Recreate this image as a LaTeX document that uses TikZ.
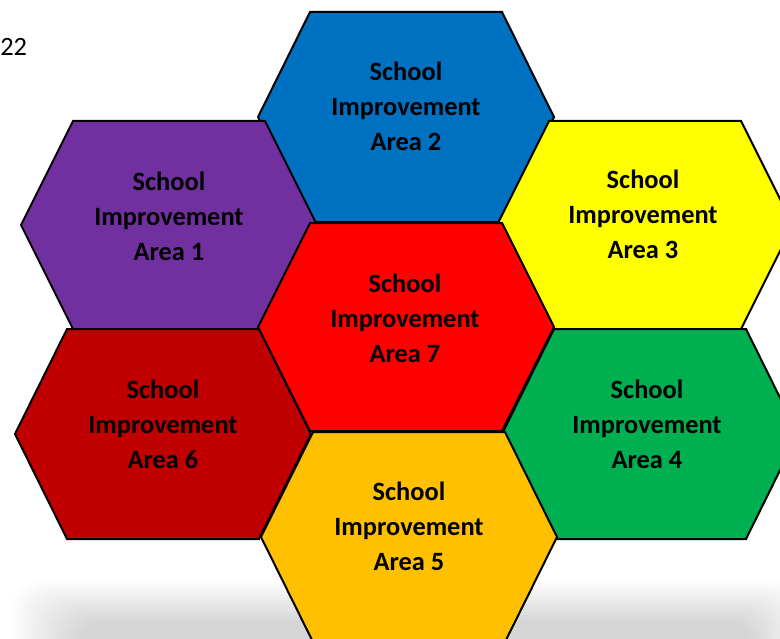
\documentclass[tikz,border=0pt]{standalone}
\usepackage{fontspec}
\setmainfont{Carlito}
\definecolor{areablue}{HTML}{0070C0}
\definecolor{areapurple}{HTML}{7030A0}
\definecolor{areayellow}{HTML}{FFFF00}
\definecolor{areared}{HTML}{FF0000}
\definecolor{areadarkred}{HTML}{C00000}
\definecolor{areagreen}{HTML}{00B050}
\definecolor{areaorange}{HTML}{FFC000}
\begin{document}
\begin{tikzpicture}[x=0.75pt, y=-0.75pt,
  cell/.style={draw=black, line width=1.5pt, line join=miter},
  celltext/.style={align=center, font=\fontsize{19.8}{26.25}\selectfont\bfseries, inner sep=0pt}]
  \clip (0,0) rectangle (780,638);
  % soft shadow under the cells
  \foreach \i in {0,...,13}
    \fill[black, opacity=0.012, rounded corners=20] (12+5*\i,582+3*\i) rectangle (805-4*\i,670);
  \node[anchor=base west, inner sep=0pt, font=\fontsize{19.8}{24}\selectfont] (pagenum) at (0,56) {22};
  % the seven cells
  \draw[cell, fill=areablue, shift={(406,117)}] (-96,-105) -- (96,-105) -- (148,0) -- (96,105) -- (-96,105) -- (-148,0) -- cycle;
  \draw[cell, fill=areapurple, shift={(169,225)}] (-96,-104) -- (96,-104) -- (148,0) -- (96,104) -- (-96,104) -- (-148,0) -- cycle;
  \draw[cell, fill=areayellow, shift={(645,225)}] (-96,-104) -- (96,-104) -- (148,0) -- (96,104) -- (-96,104) -- (-148,0) -- cycle;
  \draw[cell, fill=areared, shift={(406,327)}] (-96,-104) -- (96,-104) -- (148,0) -- (96,104) -- (-96,104) -- (-148,0) -- cycle;
  \draw[cell, fill=areadarkred, shift={(163,434)}] (-96,-105) -- (96,-105) -- (148,0) -- (96,105) -- (-96,105) -- (-148,0) -- cycle;
  \draw[cell, fill=areagreen, shift={(650,434)}] (-96,-105) -- (96,-105) -- (148,0) -- (96,105) -- (-96,105) -- (-148,0) -- cycle;
  \draw[cell, fill=areaorange, shift={(409,537)}] (-96,-105) -- (96,-105) -- (148,0) -- (96,105) -- (-96,105) -- (-148,0) -- cycle;
  % labels
  \node[celltext] (area2) at (406,106) {School\\Improvement\\Area 2};
  \node[celltext] (area1) at (169,216) {School\\Improvement\\Area 1};
  \node[celltext] (area3) at (643,214) {School\\Improvement\\Area 3};
  \node[celltext] (area7) at (405,318) {School\\Improvement\\Area 7};
  \node[celltext] (area6) at (163,424) {School\\Improvement\\Area 6};
  \node[celltext] (area4) at (647,424) {School\\Improvement\\Area 4};
  \node[celltext] (area5) at (409,526) {School\\Improvement\\Area 5};
\end{tikzpicture}
\end{document}
